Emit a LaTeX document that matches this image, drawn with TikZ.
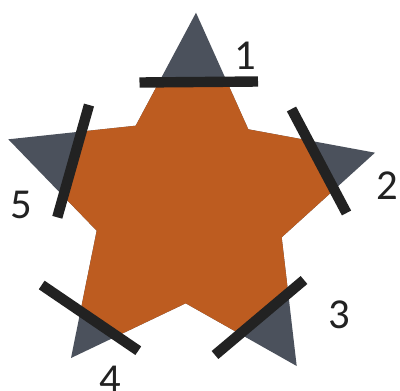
\documentclass[tikz,border=0pt]{standalone}
\usepackage{fontspec}
\setmainfont{Carlito}
\definecolor{starorange}{RGB}{189,92,32}
\definecolor{tipgray}{RGB}{75,81,92}
\definecolor{barblack}{RGB}{34,34,34}
\begin{document}
\begin{tikzpicture}[x=0.75pt,y=-0.75pt,
  bar/.style={draw=barblack,line width=7.8pt,line cap=butt},
  lbl/.style={font=\fontsize{32}{32}\selectfont,text=barblack,anchor=base,inner sep=0pt}]
\useasboundingbox (0,0) rectangle (400,390);
% star vertices
\coordinate (T) at (196,12.7);
\coordinate (IR) at (248.3,129.3);
\coordinate (R) at (375,152.7);
\coordinate (IBR) at (281.7,237.3);
\coordinate (BR) at (296.7,366);
\coordinate (IB) at (185.7,303.3);
\coordinate (BL) at (71,358);
\coordinate (IBL) at (96.7,230.7);
\coordinate (L) at (8.3,139.3);
\coordinate (IL) at (135.7,125.7);
% bar ends
\coordinate (b1a) at (139.5,82.5);
\coordinate (b1b) at (258,81.5);
\coordinate (b2a) at (291.5,109);
\coordinate (b2b) at (346.5,213);
\coordinate (b3a) at (304,280);
\coordinate (b3b) at (215,355);
\coordinate (b4a) at (41.7,285);
\coordinate (b4b) at (138.3,350.7);
\coordinate (b5a) at (89,105);
\coordinate (b5b) at (57.3,217.3);
% clip pentagon corners
\coordinate (p12) at (intersection of b1a--b1b and b2a--b2b);
\coordinate (p23) at (intersection of b2a--b2b and b3a--b3b);
\coordinate (p34) at (intersection of b3a--b3b and b4a--b4b);
\coordinate (p45) at (intersection of b4a--b4b and b5a--b5b);
\coordinate (p51) at (intersection of b5a--b5b and b1a--b1b);
% star in gray
\fill[tipgray] (T) -- (IR) -- (R) -- (IBR) -- (BR) -- (IB) -- (BL) -- (IBL) -- (L) -- (IL) -- cycle;
% orange body
\begin{scope}
\clip (p12) -- (p23) -- (p34) -- (p45) -- (p51) -- cycle;
\fill[starorange] (T) -- (IR) -- (R) -- (IBR) -- (BR) -- (IB) -- (BL) -- (IBL) -- (L) -- (IL) -- cycle;
\end{scope}
% bars
\draw[bar] (b1a) -- (b1b);
\draw[bar] (b2a) -- (b2b);
\draw[bar] (b3a) -- (b3b);
\draw[bar] (b4a) -- (b4b);
\draw[bar] (b5a) -- (b5b);
% labels
\node[lbl] (n1) at (245.8,69.3) {1};
\node[lbl] (n2) at (387.5,199.3) {2};
\node[lbl] (n3) at (339,328) {3};
\node[lbl] (n4) at (110,393.7) {4};
\node[lbl] (n5) at (21.7,218.3) {5};
\end{tikzpicture}
\end{document}
